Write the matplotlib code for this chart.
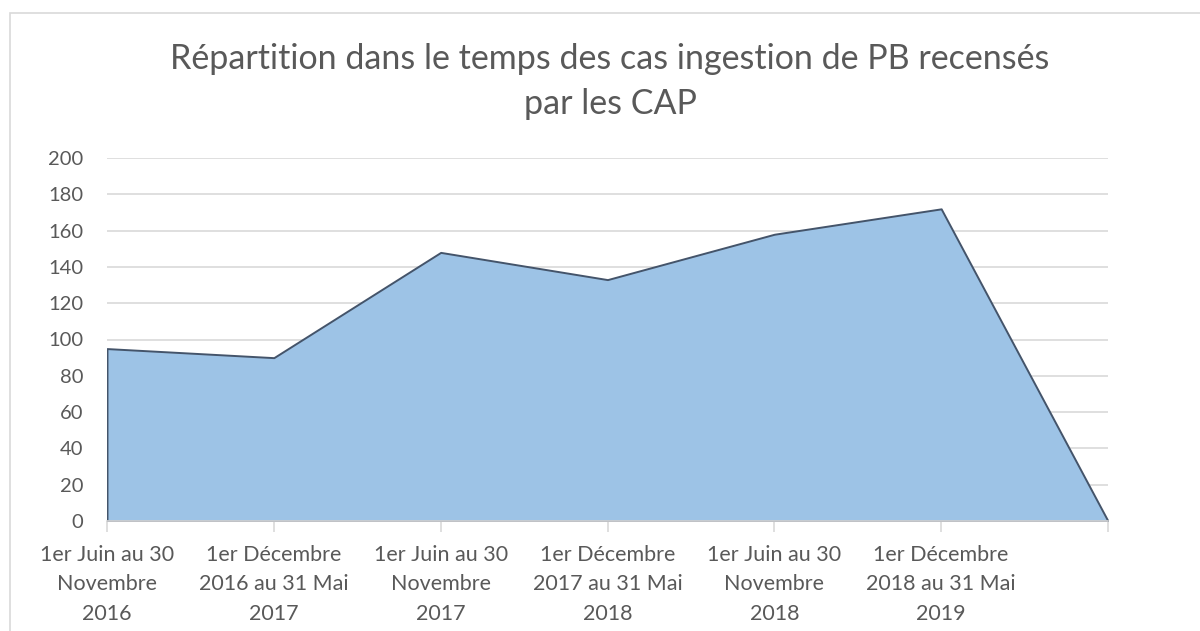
import matplotlib
import numpy as np

matplotlib.use("Agg")
import matplotlib.pyplot as plt  # noqa: E402
from matplotlib.patches import Rectangle  # noqa: E402

# data
periods = [
    "1er Juin au 30\nNovembre\n2016",
    "1er Décembre\n2016 au 31 Mai\n2017",
    "1er Juin au 30\nNovembre\n2017",
    "1er Décembre\n2017 au 31 Mai\n2018",
    "1er Juin au 30\nNovembre\n2018",
    "1er Décembre\n2018 au 31 Mai\n2019",
    "",
]
cases = [95, 90, 148, 133, 158, 172, 0]
y_ticks = [0, 20, 40, 60, 80, 100, 120, 140, 160, 180, 200]
title_lines = ["Répartition dans le temps des cas ingestion de PB recensés", "par les CAP"]

plt.rcParams["font.family"] = ["Lato", "DejaVu Sans"]

W, H = 1200, 631
fig = plt.figure(figsize=(W / 100, H / 100), dpi=100)
# light chart-area frame, runs off the right and bottom edges like the source
fig.patches.append(Rectangle((10 / W, -0.05), 1.1, 1.0 - 13 / H + 0.05,
                             transform=fig.transFigure, fill=False,
                             edgecolor="#D9D9D9", linewidth=1.2))

ax = fig.add_axes([107 / W, (H - 521) / H, 1001 / W, 363 / H])
x = np.arange(len(cases))
ax.fill_between(x, cases, 0, facecolor="#9DC3E6", edgecolor="#44546A",
                linewidth=1.4, zorder=3)

ax.set_xlim(0, len(cases) - 1)
ax.set_ylim(0, 200)
ax.set_yticks(y_ticks)
ax.set_xticks(x, periods)
ax.grid(axis="y", color="#D9D9D9", linewidth=1.2, zorder=0)
ax.set_axisbelow(True)

for side in ("top", "right", "left"):
    ax.spines[side].set_visible(False)
ax.spines["bottom"].set_color("#D9D9D9")
ax.spines["bottom"].set_linewidth(1.2)
ax.spines["bottom"].set_zorder(4)

ax.tick_params(axis="y", length=0, pad=17, labelsize=14.5, labelcolor="#595959")
ax.tick_params(axis="x", length=8, width=1.2, color="#D9D9D9", pad=9,
               labelsize=15.5, labelcolor="#595959")
for lab in ax.get_xticklabels():
    lab.set_linespacing(1.6)

for line, base in zip(title_lines, [69, 114]):
    fig.text(610 / W, (H - base) / H, line, ha="center", va="baseline",
             fontsize=24.5, color="#595959")

fig.savefig("out.png", dpi=100)
